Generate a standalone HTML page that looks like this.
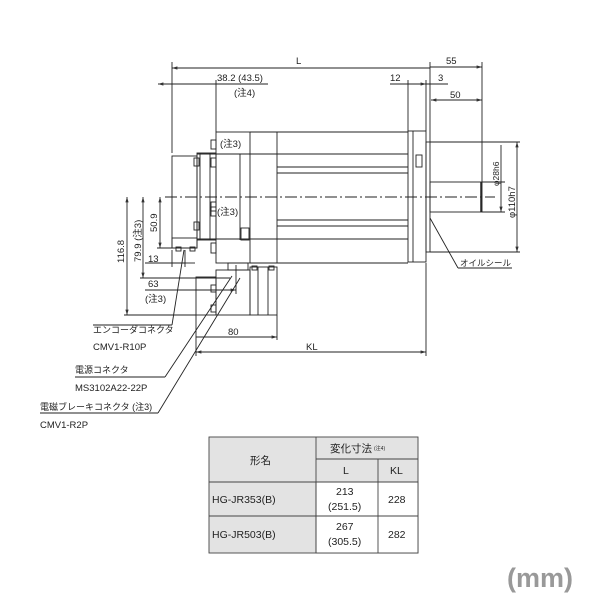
<!DOCTYPE html>
<html><head><meta charset="utf-8"><style>
body{margin:0;background:#fff}
svg{display:block}
text{font-family:"Liberation Sans","Noto Sans CJK JP",sans-serif;fill:#222}
</style></head><body>
<svg width="600" height="600" viewBox="0 0 600 600" xmlns="http://www.w3.org/2000/svg">
<defs>
<marker id="a" viewBox="0 0 10 10" refX="10" refY="5" markerWidth="6" markerHeight="6" orient="auto-start-reverse"><path d="M0,2L10,5L0,8z" fill="#333"/></marker>
</defs>
<g stroke="#222" stroke-width="0.9" fill="none">
<line x1="165" y1="197" x2="495" y2="197" stroke-dasharray="12,3,2,3"/>
<rect x="172" y="156" width="25" height="92"/>
<rect x="197" y="153" width="19" height="87"/>
<line x1="200" y1="153" x2="200" y2="240"/><line x1="210" y1="153" x2="210" y2="240"/>
<rect x="172" y="238" width="25" height="10"/>
<rect x="194" y="158" width="5" height="8"/><rect x="194" y="222" width="5" height="8"/>
<rect x="211" y="158" width="5" height="9"/><rect x="211" y="207" width="5" height="9"/>
<rect x="176" y="247" width="5" height="4"/><rect x="190" y="247" width="5" height="4"/>
<rect x="216" y="132" width="34" height="131"/>
<line x1="240" y1="154" x2="240" y2="240"/>
<rect x="241" y="228" width="8" height="12"/>
<rect x="211" y="140" width="5" height="9"/><rect x="211" y="202" width="5" height="9"/><rect x="211" y="243" width="5" height="10"/>
<line x1="250" y1="132" x2="408" y2="132"/><line x1="250" y1="263" x2="408" y2="263"/>
<line x1="277" y1="132" x2="277" y2="263"/>
<line x1="197" y1="154" x2="408" y2="154"/>
<line x1="197" y1="239" x2="408" y2="239"/>
<line x1="277" y1="167" x2="408" y2="167"/><line x1="277" y1="173" x2="408" y2="173"/>
<line x1="277" y1="220" x2="408" y2="220"/><line x1="277" y1="226" x2="408" y2="226"/>
<rect x="408" y="131" width="18" height="131"/>
<line x1="413" y1="131" x2="413" y2="262"/>
<rect x="416" y="155" width="6" height="12"/>
<rect x="426" y="142" width="4" height="110"/>
<rect x="430" y="182" width="52" height="30"/>
<line x1="481" y1="182" x2="481" y2="212" stroke-width="1.5"/>
<rect x="196" y="277" width="20" height="38"/>
<rect x="216" y="270" width="34" height="45"/>
<rect x="228" y="263" width="20" height="7"/>
<rect x="211" y="285" width="5" height="7"/><rect x="211" y="305" width="5" height="7"/>
<rect x="250" y="267" width="27" height="48"/>
<line x1="258" y1="267" x2="258" y2="315"/><line x1="268" y1="267" x2="268" y2="315"/>
<rect x="252" y="266" width="5" height="4"/><rect x="269" y="266" width="5" height="4"/>
<line x1="172" y1="68" x2="430" y2="68" marker-start="url(#a)"/>
<line x1="172" y1="62" x2="172" y2="153"/>
<line x1="158" y1="84" x2="216" y2="84" marker-start="url(#a)"/>
<line x1="216" y1="84" x2="268" y2="84"/>
<line x1="216" y1="80" x2="216" y2="132"/>
<line x1="430" y1="62" x2="430" y2="142"/>
<line x1="430" y1="67" x2="482" y2="67" marker-end="url(#a)"/>
<line x1="482" y1="62" x2="482" y2="182"/>
<line x1="390" y1="84" x2="408" y2="84" /><line x1="408" y1="84" x2="426" y2="84" marker-end="url(#a)"/>
<line x1="408" y1="80" x2="408" y2="131"/><line x1="426" y1="80" x2="426" y2="131"/>
<line x1="426" y1="84" x2="448" y2="84"/>
<line x1="431" y1="100" x2="482" y2="100" marker-start="url(#a)" marker-end="url(#a)"/>
<line x1="430" y1="142" x2="520" y2="142"/><line x1="430" y1="252" x2="520" y2="252"/>
<line x1="517" y1="142" x2="517" y2="252" marker-start="url(#a)" marker-end="url(#a)"/>
<line x1="482" y1="182" x2="505" y2="182"/><line x1="482" y1="212" x2="505" y2="212"/>
<line x1="501" y1="145" x2="501" y2="212" marker-end="url(#a)"/>
<line x1="430" y1="218" x2="458" y2="268"/><line x1="458" y1="268" x2="512" y2="268"/>
<line x1="426" y1="263" x2="426" y2="356"/>
<line x1="196" y1="352" x2="426" y2="352" marker-start="url(#a)" marker-end="url(#a)"/>
<line x1="196" y1="315" x2="196" y2="356"/>
<line x1="277" y1="315" x2="277" y2="340"/>
<line x1="196" y1="337" x2="277" y2="337" marker-end="url(#a)"/>
<line x1="127" y1="197" x2="127" y2="315" marker-start="url(#a)" marker-end="url(#a)"/>
<line x1="143" y1="197" x2="143" y2="278" marker-start="url(#a)" marker-end="url(#a)"/>
<line x1="160" y1="197" x2="160" y2="248" marker-start="url(#a)" marker-end="url(#a)"/>
<line x1="124" y1="315" x2="196" y2="315"/><line x1="140" y1="278" x2="230" y2="278"/>
<line x1="157" y1="248" x2="196" y2="248"/>
<line x1="145" y1="263" x2="185" y2="263"/><line x1="172" y1="250" x2="172" y2="267"/><line x1="185" y1="250" x2="185" y2="267"/>
<line x1="185" y1="263" x2="195" y2="263"/>
<line x1="145" y1="290" x2="236" y2="290" marker-end="url(#a)"/>
<line x1="236" y1="265" x2="236" y2="294"/>
<line x1="184" y1="250" x2="172" y2="325"/><line x1="172" y1="325" x2="93" y2="325"/>
<line x1="232" y1="276" x2="165" y2="377"/><line x1="165" y1="377" x2="75" y2="377"/>
<line x1="240" y1="278" x2="158" y2="413"/><line x1="158" y1="413" x2="40" y2="413"/>
</g>
<g font-size="9.5">
<text x="296" y="64">L</text>
<text x="217" y="81">38.2 (43.5)</text>
<text x="234" y="96">(注4)</text>
<text x="390" y="81">12</text>
<text x="438" y="81">3</text>
<text x="446" y="64">55</text>
<text x="450" y="98">50</text>
<text x="220" y="147">(注3)</text>
<text x="217" y="215">(注3)</text>
<text x="460" y="266" font-size="8.5">オイルシール</text>
<text x="228" y="335">80</text>
<text x="306" y="350">KL</text>
<text x="148" y="262">13</text>
<text x="148" y="287">63</text>
<text x="145" y="302">(注3)</text>
<text transform="translate(157,232) rotate(-90)">50.9</text>
<text transform="translate(141,262) rotate(-90)">79.9 (注3)</text>
<text transform="translate(124,263) rotate(-90)">116.8</text>
<text transform="translate(499,186) rotate(-90)" font-size="8.5">φ28h6</text>
<text transform="translate(515,218) rotate(-90)">φ110h7</text>
<text x="93" y="333" font-size="9">エンコーダコネクタ</text>
<text x="93" y="350">CMV1-R10P</text>
<text x="75" y="373" font-size="9">電源コネクタ</text>
<text x="75" y="391">MS3102A22-22P</text>
<text x="40" y="410" font-size="9">電磁ブレーキコネクタ (注3)</text>
<text x="40" y="428">CMV1-R2P</text>
</g>
<g stroke="#444" stroke-width="0.9">
<rect x="209" y="437" width="209" height="116" fill="#e3e3e3"/>
<rect x="316" y="482" width="102" height="71" fill="#fff"/>
<line x1="316" y1="437" x2="316" y2="553"/>
<line x1="316" y1="459" x2="418" y2="459"/>
<line x1="378" y1="459" x2="378" y2="553"/>
<line x1="209" y1="482" x2="418" y2="482"/>
<line x1="209" y1="516" x2="418" y2="516"/>
</g>
<g font-size="10.5">
<text x="250" y="464">形名</text>
<text x="330" y="452">変化寸法</text><text x="374" y="450" font-size="5">(注4)</text>
<text x="343" y="474">L</text>
<text x="390" y="474">KL</text>
<text x="212" y="503">HG-JR353(B)</text>
<text x="336" y="495">213</text><text x="328" y="510">(251.5)</text>
<text x="388" y="503">228</text>
<text x="212" y="538">HG-JR503(B)</text>
<text x="336" y="530">267</text><text x="328" y="545">(305.5)</text>
<text x="388" y="538">282</text>
</g>
<text x="507" y="587" font-size="27" font-weight="bold" style="fill:#999">(mm)</text>
</svg>
</body></html>
